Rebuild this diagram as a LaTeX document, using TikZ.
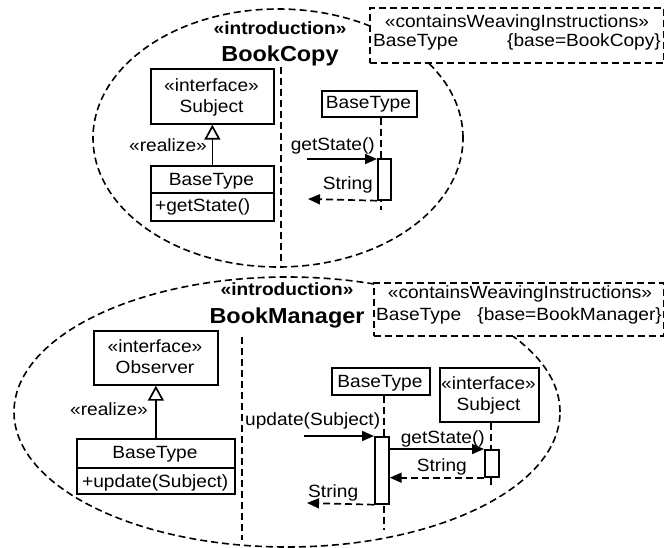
\documentclass[tikz,border=0pt]{standalone}
\usepackage{fontspec}
\setmainfont{Liberation Sans}[FakeStretch=1.08]
\usetikzlibrary{arrows.meta,shapes.geometric}

\begin{document}
\begin{tikzpicture}[x=1pt,y=-1pt,
  txt/.style={inner sep=0pt, font=\fontsize{17.7}{21}\selectfont},
  head/.style={inner sep=0pt, font=\fontsize{17.7}{21}\selectfont\bfseries},
  title/.style={inner sep=0pt, font=\fontsize{21.7}{25}\selectfont\bfseries},
  dashline/.style={line width=1.6pt, dash pattern=on 7pt off 4pt},
  box/.style={draw, line width=1.7pt, fill=white, inner sep=0pt, anchor=north west},
  notebox/.style={box, dashline},
  aspect/.style={draw, ellipse, dashline, inner sep=0pt},
  lifeline/.style={dashline},
  msg/.style={line width=1.7pt, -{Triangle[length=12pt,width=10pt]}},
  ret/.style={msg, dash pattern=on 7pt off 4pt},
  realize/.style={line width=1.7pt, -{Triangle[open,length=15pt,width=16pt,fill=white]}}]
\useasboundingbox (0,0) rectangle (664,548);

% ---------- aspect outlines ----------
\node[aspect, minimum width=370pt, minimum height=258pt] (bcAspect) at (278,138) {};
\node[aspect, minimum width=546pt, minimum height=270pt] (bmAspect) at (287,412) {};

% ---------- weaving notes ----------
\node[notebox, minimum width=294pt, minimum height=55pt] (bcNote) at (369,7) {};
\node[txt, anchor=base] (bcNoteSt) at (517,28) {«containsWeavingInstructions»};
\node[txt, anchor=base west] (bcNoteBT) at (373,47) {BaseType};
\node[txt, anchor=base east] (bcNoteTag) at (661,47) {\{base=BookCopy\}};

\node[notebox, minimum width=290pt, minimum height=53pt] (bmNote) at (373,282) {};
\node[txt, anchor=base] (bmNoteSt) at (520,298) {«containsWeavingInstructions»};
\node[txt, anchor=base west] (bmNoteBT) at (376,320) {BaseType};
\node[txt, anchor=base east] (bmNoteTag) at (662,320) {\{base=BookManager\}};

% ---------- titles ----------
\node[head, anchor=base] (bcIntro) at (280,35) {«introduction»};
\node[title, anchor=base] (bcName) at (280,62) {BookCopy};
\node[head, anchor=base] (bmIntro) at (287,295) {«introduction»};
\node[title, anchor=base] (bmName) at (287,323) {BookManager};

% ---------- partitions ----------
\coordinate (bcSplitTop) at (281,67);
\coordinate (bcSplitBot) at (281,265);
\draw[dashline] (bcSplitTop) -- (bcSplitBot);
\coordinate (bmSplitTop) at (242,337);
\draw[dashline] (bmSplitTop) -- (242,540);

% ---------- BookCopy: structure ----------
\node[box, minimum width=123pt, minimum height=55pt] (subjIf) at (150,68) {};
\node[txt, anchor=base] (subjIfSt) at (211.5,92) {«interface»};
\node[txt, anchor=base] (subjIfName) at (211.5,113) {Subject};
\node[box, minimum width=123pt, minimum height=27pt] (bcCls) at (150,165) {};
\node[box, minimum width=123pt, minimum height=28pt] (bcOps) at (150,192) {};
\node[txt, anchor=base] (bcClsName) at (211.5,186) {BaseType};
\node[txt, anchor=base west] (bcOp) at (155,212) {+getState()};
\draw[realize] (bcCls.north) -- (subjIf.south);
\node[txt, anchor=base east] (bcReal) at (207,152) {«realize»};

% ---------- BookCopy: interaction ----------
\node[box, minimum width=95pt, minimum height=26pt] (bcLife) at (321,90) {};
\node[txt, anchor=base] (bcLifeName) at (368.5,109) {BaseType};
\coordinate (bcLifeEnd) at (381,210);
\draw[lifeline] (bcLife.south -| bcLifeEnd) -- (bcLifeEnd);
\node[box, minimum width=13pt, minimum height=41pt] (bcAct) at (377,158) {};
\coordinate (bcCallIn) at (307,159);
\draw[msg] (bcCallIn) -- (bcCallIn -| bcAct.west);
\node[txt, anchor=base east] (bcCallLbl) at (375,151) {getState()};
\coordinate (bcRetOut) at (308,199);
\draw[ret] (bcAct.south west) -- (bcRetOut);
\node[txt, anchor=base east] (bcRetLbl) at (373,190) {String};

% ---------- BookManager: structure ----------
\node[box, minimum width=124pt, minimum height=54pt] (obsIf) at (93,330) {};
\node[txt, anchor=base] (obsIfSt) at (155,352) {«interface»};
\node[txt, anchor=base] (obsIfName) at (155,373) {Observer};
\node[box, minimum width=158pt, minimum height=29pt] (bmCls) at (76,438) {};
\node[box, minimum width=158pt, minimum height=26pt] (bmOps) at (76,467) {};
\node[txt, anchor=base] (bmClsName) at (155,458) {BaseType};
\node[txt, anchor=base west] (bmOp) at (82,487) {+update(Subject)};
\draw[realize] (bmCls.north) -- (obsIf.south);
\node[txt, anchor=base east] (bmReal) at (148,415) {«realize»};

% ---------- BookManager: interaction ----------
\node[box, minimum width=98pt, minimum height=27pt] (bmLife) at (331,367) {};
\node[txt, anchor=base] (bmLifeName) at (380,387) {BaseType};
\node[box, minimum width=99pt, minimum height=54pt] (subjLife) at (439,367) {};
\node[txt, anchor=base] (subjLifeSt) at (488.5,389) {«interface»};
\node[txt, anchor=base] (subjLifeName) at (488.5,410) {Subject};
\coordinate (bmLifeEnd) at (384,530);
\draw[lifeline] (bmLife.south -| bmLifeEnd) -- (bmLifeEnd);
\coordinate (subjLifeEnd) at (491,488);
\draw[lifeline] (subjLife.south -| subjLifeEnd) -- (subjLifeEnd);
\node[box, minimum width=14pt, minimum height=67pt] (bmAct) at (374,436) {};
\node[box, minimum width=14pt, minimum height=27pt] (subjAct) at (484,449) {};

\coordinate (bmCallIn) at (304,436);
\draw[msg] (bmCallIn) -- (bmCallIn -| bmAct.west);
\node[txt, anchor=base west] (bmCallLbl) at (245,425) {update(Subject)};
\draw[msg] (bmAct.east |- subjAct.north) -- (subjAct.north west);
\node[txt, anchor=base east] (subjCallLbl) at (485,443) {getState()};
\draw[ret] (subjAct.south west) -- (subjAct.south west -| bmAct.east);
\node[txt, anchor=base east] (subjRetLbl) at (467,471) {String};
\coordinate (bmRetOut) at (307,503);
\draw[ret] (bmAct.south west) -- (bmRetOut);
\node[txt, anchor=base west] (bmRetLbl) at (308,497) {String};
\end{tikzpicture}
\end{document}
